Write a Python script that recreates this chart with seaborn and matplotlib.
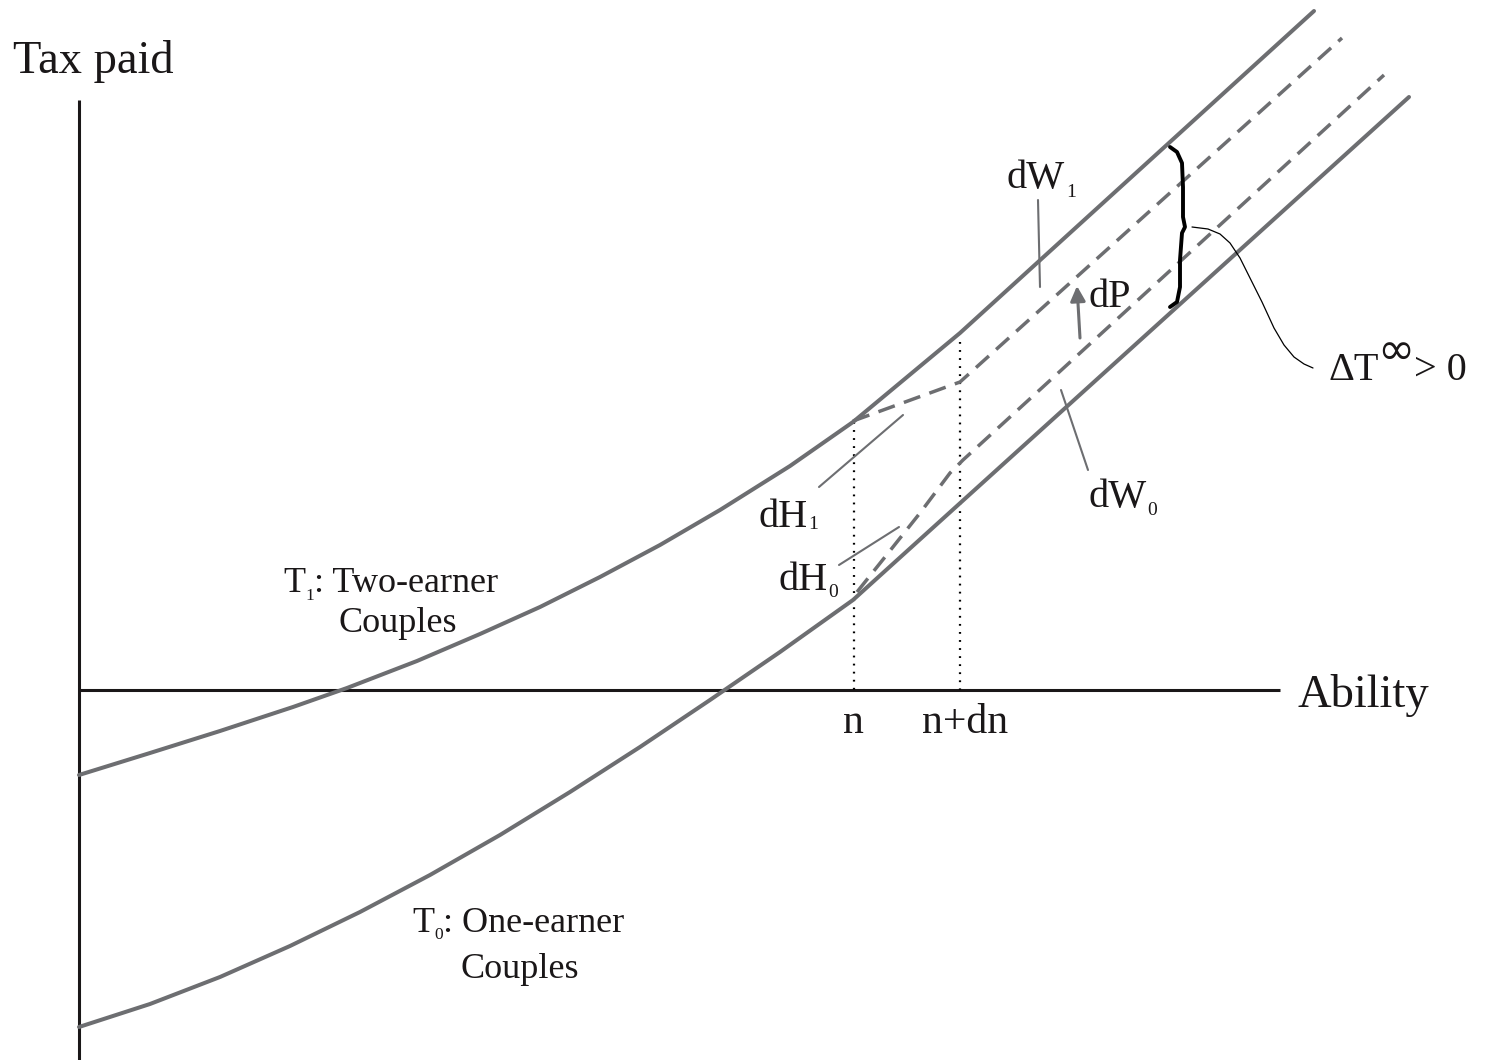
import numpy as np
import pandas as pd
import matplotlib
matplotlib.use('Agg')
import matplotlib.pyplot as plt
import seaborn as sns

# curve points (pixel space, y downward)
t1_x = [79, 150, 220, 293, 347, 417, 480, 540, 600, 660, 720, 790, 853, 960, 1314]
t1_y = [775, 753, 731, 707, 688, 661, 634, 607, 577, 545, 510, 466, 422, 333, 11]

t0_x = [79, 150, 220, 290, 360, 430, 500, 570, 640, 710, 780, 853, 1409]
t0_y = [1027, 1004, 977, 946, 912, 875, 835, 792, 747, 700, 652, 600, 97]

up_dash_x = [853, 960, 1342]
up_dash_y = [421, 382, 38]

lo_dash_x = [857, 885, 920, 950, 963, 1384]
lo_dash_y = [592, 557, 513, 473, 460, 75]

n_x = 854
ndn_x = 960
n_top = 422
ndn_top = 342

brace_x = [1170, 1177, 1182, 1183, 1183, 1185, 1182, 1180, 1180, 1177, 1170]
brace_y = [147, 152, 163, 187, 217, 227, 233, 260, 287, 302, 307]

swoosh_x = [1192, 1208, 1220, 1230, 1240, 1250, 1262, 1274, 1284, 1294, 1304, 1313]
swoosh_y = [227, 229, 234, 243, 258, 278, 302, 328, 345, 357, 364, 368]

GRAY = '#6d6e71'
INK = '#1a1718'
SERIF = 'Liberation Serif'

sns.set_style('white')
plt.rcParams['font.family'] = [SERIF, 'DejaVu Serif']
plt.rcParams['lines.scale_dashes'] = False

fig = plt.figure(figsize=(14.89, 10.60), dpi=100)
ax = fig.add_axes([0, 0, 1, 1])
ax.set_xlim(0, 1489)
ax.set_ylim(1060, 0)
ax.axis('off')
renderer = fig.canvas.get_renderer()

# axes of the diagram
ax.plot([79, 79], [100, 1060], color=INK, lw=2.2, solid_capstyle='butt')
ax.plot([79, 1280], [690, 690], color=INK, lw=2.2, solid_capstyle='butt')

# dotted verticals at n and n+dn
ax.plot([n_x, n_x], [n_top, 690], color='black', lw=1.6, linestyle=(0, (1.3, 4.5)))
ax.plot([ndn_x, ndn_x], [ndn_top, 690], color='black', lw=1.6, linestyle=(0, (1.3, 4.5)))

# tax schedules
sns.lineplot(x=t1_x, y=t1_y, sort=False, estimator=None, color=GRAY, lw=2.9, ax=ax)
sns.lineplot(x=t0_x, y=t0_y, sort=False, estimator=None, color=GRAY, lw=2.9, ax=ax)
sns.lineplot(x=up_dash_x, y=up_dash_y, sort=False, estimator=None, color=GRAY, lw=2.5,
             linestyle=(0, (12.5, 7)), ax=ax)
sns.lineplot(x=lo_dash_x, y=lo_dash_y, sort=False, estimator=None, color=GRAY, lw=2.5,
             linestyle=(0, (12.5, 7)), ax=ax)

# brace and its connector
ax.plot(brace_x, brace_y, color='black', lw=2.8, solid_capstyle='round', solid_joinstyle='round')
ax.plot(swoosh_x, swoosh_y, color='black', lw=0.9)

# leader lines
for (x0, y0), (x1, y1) in [((1038, 200), (1040, 287)), ((1061, 390), (1088, 470)),
                           ((903, 415), (819, 487)), ((899, 527), (839, 565))]:
    ax.plot([x0, x1], [y0, y1], color=GRAY, lw=1.5)

# dP arrow
ax.annotate('', xy=(1077, 286), xytext=(1080, 338),
            arrowprops=dict(arrowstyle='-|>,head_length=0.9,head_width=0.45',
                            color=GRAY, lw=2.2, shrinkA=0, shrinkB=0))


def label(x, y, s, size=29, **kw):
    opts = dict(fontsize=size, color=INK, va='baseline', ha='left', family=SERIF)
    opts.update(kw)
    return ax.text(x, y, s, **opts)


def right_edge(t):
    bb = t.get_window_extent(renderer)
    return ax.transData.inverted().transform((bb.x1, bb.y0))[0]


def label_sub(x, y, main, sub, size=29, sub_size=14, drop=4, after=None, gap=1):
    t = label(x, y, main, size)
    xs = right_edge(t) + gap
    s = label(xs, y + drop, sub, sub_size)
    if after:
        label(right_edge(s), y, after, size)


label(13, 73, 'Tax paid', 33.5)
label(1297, 707, 'Ability', 33.5)
label(843, 733, 'n', 30)
label(922, 733, 'n+dn', 30)

label_sub(1007, 188, 'dW', '1', drop=9)
label_sub(1088, 507, 'dW', '0', drop=8)
label_sub(758, 527, 'dH', '1', drop=2)
label_sub(778, 590, 'dH', '0', drop=7)
label(1088, 307, 'dP', 29)

t = label(1328, 380, '\u0394T', 29)
label(right_edge(t) - 1, 351, '\u221e', 32, family='DejaVu Sans', va='center')
label(1414, 380, '> 0', 29)

label_sub(283, 592, 'T', '1', size=26, sub_size=12.5, drop=8, after=': Two-earner', gap=0)
label(339, 632, 'Couples', 26)

label_sub(412, 932, 'T', '0', size=26, sub_size=12.5, drop=7, after=': One-earner', gap=0)
label(460, 978, 'Couples', 26)

fig.savefig('out.png', dpi=100)
